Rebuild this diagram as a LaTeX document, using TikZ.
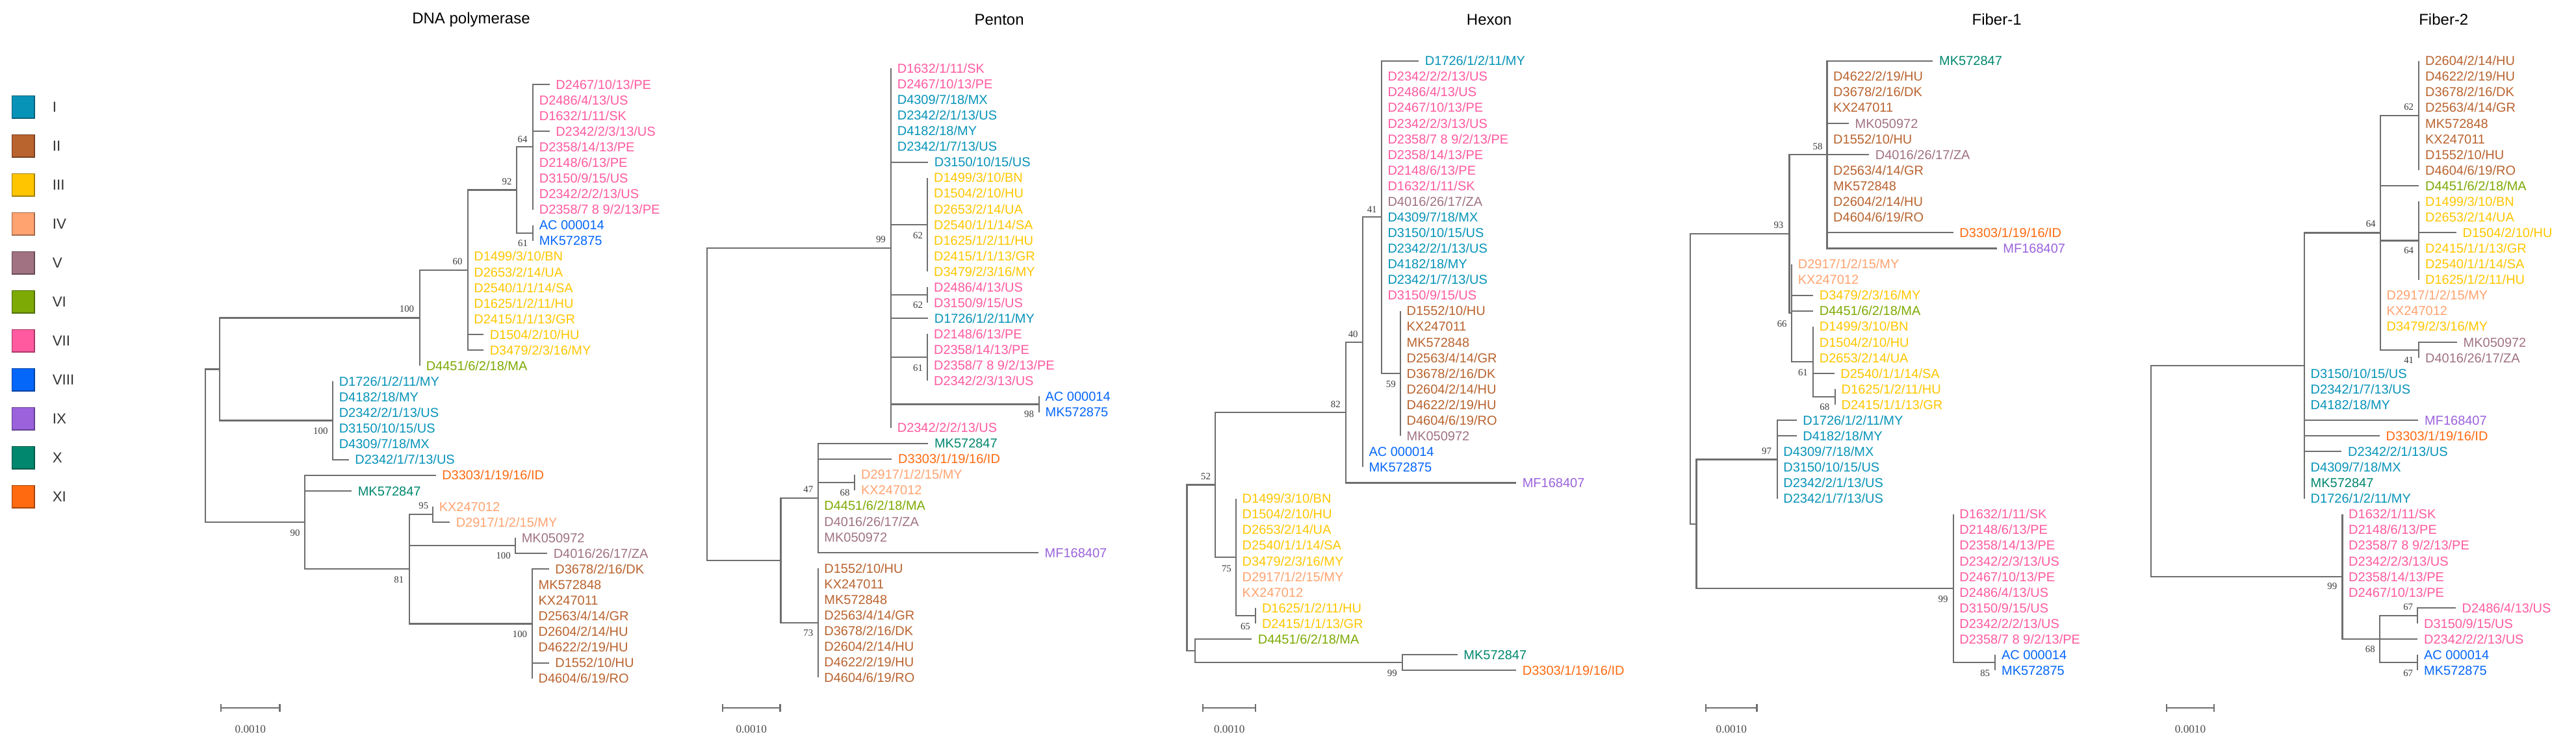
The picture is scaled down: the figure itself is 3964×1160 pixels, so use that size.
\documentclass[tikz,border=0pt]{standalone}
\usepackage{fontspec}
\setmainfont{Liberation Sans}
\newfontfamily\bsfont{Liberation Serif}
\definecolor{cI}{HTML}{0793B8}
\definecolor{cII}{HTML}{B9632F}
\definecolor{cIII}{HTML}{FFC600}
\definecolor{cIV}{HTML}{FFA370}
\definecolor{cV}{HTML}{A07282}
\definecolor{cVI}{HTML}{7DAA05}
\definecolor{cVII}{HTML}{FF5AA0}
\definecolor{cVIII}{HTML}{0566FA}
\definecolor{cIX}{HTML}{9B62DC}
\definecolor{cX}{HTML}{00876E}
\definecolor{cXI}{HTML}{FF6A10}
\definecolor{linegray}{HTML}{6E6E6E}
\definecolor{bsgray}{HTML}{3A3A3A}
\newcommand\tnode[4]{\coordinate (#2) at (#3,#4); \draw[br] (#1) |- (#2);}
\newcommand\tleaf[6]{\coordinate (#2t) at (#3,{\tyb+\tys*#4}); \draw[br] (#1) |- (#2t);
  \node[lab,text=#5] (#2) at ([xshift=2.25pt]#2t) {#6};}
\newcommand\tbs[3]{\node[bs] (#1) at (#2) {#3};}
\begin{document}
\begin{tikzpicture}[x=0.25pt,y=-0.25pt,
  br/.style={draw=linegray,line width=0.55pt},
  lab/.style={font=\fontsize{5pt}{6pt}\selectfont,inner sep=0pt,anchor=west,text height=3.58pt,text depth=0pt},
  bs/.style={font=\bsfont\fontsize{3.7pt}{4pt}\selectfont,inner sep=0pt,text=bsgray},
  ttl/.style={font=\fontsize{6pt}{7pt}\selectfont,inner sep=0pt,text=black},
  sclab/.style={font=\bsfont\fontsize{4.3pt}{5pt}\selectfont,inner sep=0pt,text=black!70},
  lgbox/.style={minimum width=8.6pt,minimum height=8.6pt,inner sep=0pt,line width=0.4pt},
  lgtxt/.style={font=\fontsize{5.6pt}{6pt}\selectfont,inner sep=0pt,anchor=west,text=black!80,text height=4pt,text depth=0pt}]
\useasboundingbox (0,0) rectangle (3964,1160);
% ---------------- legend
\foreach \c/\t [count=\i] in {cI/I,cII/II,cIII/III,cIV/IV,cV/V,cVI/VI,cVII/VII,cVIII/VIII,cIX/IX,cX/X,cXI/XI}{
  \node[lgbox,fill=\c,draw=\c!65!black] (lg\i) at (35.5,{164.8+59.98*(\i-1)}) {};
  \node[lgtxt] (lgt\i) at (80,{164.8+59.98*(\i-1)}) {\t};
}
% ---------------- titles
\node[ttl] (tA) at (725,30.4) {DNA polymerase};
\node[ttl] (tB) at (1537.6,30.4) {Penton};
\node[ttl] (tC) at (2291.6,30.4) {Hexon};
\node[ttl] (tD) at (3072.6,30.4) {Fiber-1};
\node[ttl] (tE) at (3760.3,30.4) {Fiber-2};
% ================= DNA polymerase
\def\tyb{130}\def\tys{24.07}
\coordinate (aR) at (315.6,686);
\tnode{aR}{aU}{338}{568.5}
\tnode{aU}{aN100}{646}{489.5}
\tnode{aN100}{aN60}{719.6}{415.9}
\tnode{aN60}{aN92}{794.6}{292.5}
\tnode{aN92}{aN64}{820}{226.3}
\tnode{aN92}{aN61}{820}{358.7}
\tnode{aU}{aCy}{512}{647.5}
\tnode{aR}{aN90}{468.8}{804}
\tnode{aN90}{aN81}{630}{876.2}
\tnode{aN81}{aN95}{666}{792}
\tnode{aN81}{aNV}{793}{840.1}
\tnode{aN81}{aNBr}{818.8}{960.4}
\tleaf{aN64}{aL0}{845.5}{0}{cVII}{D2467/10/13/PE}
\tleaf{aN64}{aL1}{820}{1}{cVII}{D2486/4/13/US}
\tleaf{aN64}{aL2}{820}{2}{cVII}{D1632/1/11/SK}
\tleaf{aN64}{aL3}{845.5}{3}{cVII}{D2342/2/3/13/US}
\tleaf{aN64}{aL4}{820}{4}{cVII}{D2358/14/13/PE}
\tleaf{aN64}{aL5}{820}{5}{cVII}{D2148/6/13/PE}
\tleaf{aN64}{aL6}{820}{6}{cVII}{D3150/9/15/US}
\tleaf{aN64}{aL7}{820}{7}{cVII}{D2342/2/2/13/US}
\tleaf{aN64}{aL8}{820}{8}{cVII}{D2358/7 8 9/2/13/PE}
\tleaf{aN61}{aL9}{820}{9}{cVIII}{AC 000014}
\tleaf{aN61}{aL10}{820}{10}{cVIII}{MK572875}
\tleaf{aN60}{aL11}{719.6}{11}{cIII}{D1499/3/10/BN}
\tleaf{aN60}{aL12}{719.6}{12}{cIII}{D2653/2/14/UA}
\tleaf{aN60}{aL13}{719.6}{13}{cIII}{D2540/1/1/14/SA}
\tleaf{aN60}{aL14}{719.6}{14}{cIII}{D1625/1/2/11/HU}
\tleaf{aN60}{aL15}{719.6}{15}{cIII}{D2415/1/1/13/GR}
\tleaf{aN60}{aL16}{744}{16}{cIII}{D1504/2/10/HU}
\tleaf{aN60}{aL17}{744}{17}{cIII}{D3479/2/3/16/MY}
\tleaf{aN100}{aL18}{646}{18}{cVI}{D4451/6/2/18/MA}
\tleaf{aCy}{aL19}{512}{19}{cI}{D1726/1/2/11/MY}
\tleaf{aCy}{aL20}{512}{20}{cI}{D4182/18/MY}
\tleaf{aCy}{aL21}{512}{21}{cI}{D2342/2/1/13/US}
\tleaf{aCy}{aL22}{512}{22}{cI}{D3150/10/15/US}
\tleaf{aCy}{aL23}{512}{23}{cI}{D4309/7/18/MX}
\tleaf{aCy}{aL24}{536.6}{24}{cI}{D2342/1/7/13/US}
\tleaf{aN90}{aL25}{670.5}{25}{cXI}{D3303/1/19/16/ID}
\tleaf{aN90}{aL26}{541}{26}{cX}{MK572847}
\tleaf{aN95}{aL27}{666}{27}{cIV}{KX247012}
\tleaf{aN95}{aL28}{692}{28}{cIV}{D2917/1/2/15/MY}
\tleaf{aNV}{aL29}{793}{29}{cV}{MK050972}
\tleaf{aNV}{aL30}{842}{30}{cV}{D4016/26/17/ZA}
\tleaf{aNBr}{aL31}{844.6}{31}{cII}{D3678/2/16/DK}
\tleaf{aNBr}{aL32}{818.8}{32}{cII}{MK572848}
\tleaf{aNBr}{aL33}{818.8}{33}{cII}{KX247011}
\tleaf{aNBr}{aL34}{818.8}{34}{cII}{D2563/4/14/GR}
\tleaf{aNBr}{aL35}{818.8}{35}{cII}{D2604/2/14/HU}
\tleaf{aNBr}{aL36}{818.8}{36}{cII}{D4622/2/19/HU}
\tleaf{aNBr}{aL37}{844.6}{37}{cII}{D1552/10/HU}
\tleaf{aNBr}{aL38}{818.8}{38}{cII}{D4604/6/19/RO}
\tbs{aB1}{804,214.5}{64}
\tbs{aB2}{804.5,375}{61}
\tbs{aB3}{780,280}{92}
\tbs{aB4}{704,402.7}{60}
\tbs{aB5}{626,476}{100}
\tbs{aB6}{493.3,663.3}{100}
\tbs{aB7}{454,820.2}{90}
\tbs{aB8}{613.8,892.2}{81}
\tbs{aB9}{651.8,778.9}{95}
\tbs{aB10}{774.6,855.8}{100}
\tbs{aB11}{800,976.4}{100}
% ================= Penton
\def\tyb{105.4}\def\tys{24.05}
\coordinate (bR) at (1088,622.3);
\tnode{bR}{bN99}{1371}{382}
\tnode{bN99}{bNY}{1427.3}{345.9}
\tnode{bN99}{bNP}{1427.3}{454.1}
\tnode{bN99}{bN61}{1427.3}{550.3}
\tnode{bN99}{bN98}{1598.8}{622.5}
\tnode{bR}{bNL}{1201.4}{862.6}
\tnode{bNL}{bN47}{1258.6}{766.8}
\tnode{bN47}{bN68}{1315.3}{742.7}
\tnode{bNL}{bN73}{1258.6}{959.2}
\tleaf{bN99}{bL0}{1371}{0}{cVII}{D1632/1/11/SK}
\tleaf{bN99}{bL1}{1371}{1}{cVII}{D2467/10/13/PE}
\tleaf{bN99}{bL2}{1371}{2}{cI}{D4309/7/18/MX}
\tleaf{bN99}{bL3}{1371}{3}{cI}{D2342/2/1/13/US}
\tleaf{bN99}{bL4}{1371}{4}{cI}{D4182/18/MY}
\tleaf{bN99}{bL5}{1371}{5}{cI}{D2342/1/7/13/US}
\tleaf{bN99}{bL6}{1428}{6}{cI}{D3150/10/15/US}
\tleaf{bNY}{bL7}{1427.3}{7}{cIII}{D1499/3/10/BN}
\tleaf{bNY}{bL8}{1427.3}{8}{cIII}{D1504/2/10/HU}
\tleaf{bNY}{bL9}{1427.3}{9}{cIII}{D2653/2/14/UA}
\tleaf{bNY}{bL10}{1427.3}{10}{cIII}{D2540/1/1/14/SA}
\tleaf{bNY}{bL11}{1427.3}{11}{cIII}{D1625/1/2/11/HU}
\tleaf{bNY}{bL12}{1427.3}{12}{cIII}{D2415/1/1/13/GR}
\tleaf{bNY}{bL13}{1427.3}{13}{cIII}{D3479/2/3/16/MY}
\tleaf{bNP}{bL14}{1427.3}{14}{cVII}{D2486/4/13/US}
\tleaf{bNP}{bL15}{1427.3}{15}{cVII}{D3150/9/15/US}
\tleaf{bN99}{bL16}{1428}{16}{cI}{D1726/1/2/11/MY}
\tleaf{bN61}{bL17}{1427.3}{17}{cVII}{D2148/6/13/PE}
\tleaf{bN61}{bL18}{1427.3}{18}{cVII}{D2358/14/13/PE}
\tleaf{bN61}{bL19}{1427.3}{19}{cVII}{D2358/7 8 9/2/13/PE}
\tleaf{bN61}{bL20}{1427.3}{20}{cVII}{D2342/2/3/13/US}
\tleaf{bN98}{bL21}{1598.8}{21}{cVIII}{AC 000014}
\tleaf{bN98}{bL22}{1598.8}{22}{cVIII}{MK572875}
\tleaf{bN99}{bL23}{1371}{23}{cVII}{D2342/2/2/13/US}
\tleaf{bN47}{bL24}{1428.2}{24}{cX}{MK572847}
\tleaf{bN47}{bL25}{1372.4}{25}{cXI}{D3303/1/19/16/ID}
\tleaf{bN68}{bL26}{1315.3}{26}{cIV}{D2917/1/2/15/MY}
\tleaf{bN68}{bL27}{1315.3}{27}{cIV}{KX247012}
\tleaf{bN47}{bL28}{1258.6}{28}{cVI}{D4451/6/2/18/MA}
\tleaf{bN47}{bL29}{1258.6}{29}{cV}{D4016/26/17/ZA}
\tleaf{bN47}{bL30}{1258.6}{30}{cV}{MK050972}
\tleaf{bN47}{bL31}{1597.9}{31}{cIX}{MF168407}
\tleaf{bN73}{bL32}{1258.6}{32}{cII}{D1552/10/HU}
\tleaf{bN73}{bL33}{1258.6}{33}{cII}{KX247011}
\tleaf{bN73}{bL34}{1258.6}{34}{cII}{MK572848}
\tleaf{bN73}{bL35}{1258.6}{35}{cII}{D2563/4/14/GR}
\tleaf{bN73}{bL36}{1258.6}{36}{cII}{D3678/2/16/DK}
\tleaf{bN73}{bL37}{1258.6}{37}{cII}{D2604/2/14/HU}
\tleaf{bN73}{bL38}{1258.6}{38}{cII}{D4622/2/19/HU}
\tleaf{bN73}{bL39}{1258.6}{39}{cII}{D4604/6/19/RO}
\tbs{bB1}{1355.4,368.5}{99}
\tbs{bB2}{1412.6,362.5}{62}
\tbs{bB3}{1412.6,469.6}{62}
\tbs{bB4}{1412.6,566.9}{61}
\tbs{bB5}{1583.6,638}{98}
\tbs{bB6}{1243.8,753.5}{47}
\tbs{bB7}{1300,758.7}{68}
\tbs{bB8}{1243.8,975}{73}
% ================= Hexon
\def\tyb{93.6}\def\tys{24.07}
\coordinate (cR) at (1826.5,874.3);
\tnode{cR}{cN52}{1870}{746.4}
\tnode{cN52}{cN82}{2071}{635}
\tnode{cN82}{cN40}{2096.7}{527}
\tnode{cN40}{cN41}{2125.7}{334.3}
\tnode{cN41}{cN59}{2154.8}{575}
\tnode{cN52}{cN75}{1901.9}{857.8}
\tnode{cN75}{cN65}{1932.2}{948.1}
\tnode{cR}{cNLo}{1838.9}{1002.2}
\tnode{cNLo}{cN99}{2158}{1020.3}
\tleaf{cN41}{cL0}{2183}{0}{cI}{D1726/1/2/11/MY}
\tleaf{cN41}{cL1}{2125.7}{1}{cVII}{D2342/2/2/13/US}
\tleaf{cN41}{cL2}{2125.7}{2}{cVII}{D2486/4/13/US}
\tleaf{cN41}{cL3}{2125.7}{3}{cVII}{D2467/10/13/PE}
\tleaf{cN41}{cL4}{2125.7}{4}{cVII}{D2342/2/3/13/US}
\tleaf{cN41}{cL5}{2125.7}{5}{cVII}{D2358/7 8 9/2/13/PE}
\tleaf{cN41}{cL6}{2125.7}{6}{cVII}{D2358/14/13/PE}
\tleaf{cN41}{cL7}{2125.7}{7}{cVII}{D2148/6/13/PE}
\tleaf{cN41}{cL8}{2125.7}{8}{cVII}{D1632/1/11/SK}
\tleaf{cN41}{cL9}{2125.7}{9}{cV}{D4016/26/17/ZA}
\tleaf{cN41}{cL10}{2125.7}{10}{cI}{D4309/7/18/MX}
\tleaf{cN41}{cL11}{2125.7}{11}{cI}{D3150/10/15/US}
\tleaf{cN41}{cL12}{2125.7}{12}{cI}{D2342/2/1/13/US}
\tleaf{cN41}{cL13}{2125.7}{13}{cI}{D4182/18/MY}
\tleaf{cN41}{cL14}{2125.7}{14}{cI}{D2342/1/7/13/US}
\tleaf{cN41}{cL15}{2125.7}{15}{cVII}{D3150/9/15/US}
\tleaf{cN59}{cL16}{2154.8}{16}{cII}{D1552/10/HU}
\tleaf{cN59}{cL17}{2154.8}{17}{cII}{KX247011}
\tleaf{cN59}{cL18}{2154.8}{18}{cII}{MK572848}
\tleaf{cN59}{cL19}{2154.8}{19}{cII}{D2563/4/14/GR}
\tleaf{cN59}{cL20}{2154.8}{20}{cII}{D3678/2/16/DK}
\tleaf{cN59}{cL21}{2154.8}{21}{cII}{D2604/2/14/HU}
\tleaf{cN59}{cL22}{2154.8}{22}{cII}{D4622/2/19/HU}
\tleaf{cN59}{cL23}{2154.8}{23}{cII}{D4604/6/19/RO}
\tleaf{cN59}{cL24}{2154.8}{24}{cV}{MK050972}
\tleaf{cN40}{cL25}{2096.7}{25}{cVIII}{AC 000014}
\tleaf{cN40}{cL26}{2096.7}{26}{cVIII}{MK572875}
\tleaf{cN82}{cL27}{2333}{27}{cIX}{MF168407}
\tleaf{cN75}{cL28}{1901.9}{28}{cIII}{D1499/3/10/BN}
\tleaf{cN75}{cL29}{1901.9}{29}{cIII}{D1504/2/10/HU}
\tleaf{cN75}{cL30}{1901.9}{30}{cIII}{D2653/2/14/UA}
\tleaf{cN75}{cL31}{1901.9}{31}{cIII}{D2540/1/1/14/SA}
\tleaf{cN75}{cL32}{1901.9}{32}{cIII}{D3479/2/3/16/MY}
\tleaf{cN75}{cL33}{1901.9}{33}{cIV}{D2917/1/2/15/MY}
\tleaf{cN75}{cL34}{1901.9}{34}{cIV}{KX247012}
\tleaf{cN65}{cL35}{1932.2}{35}{cIII}{D1625/1/2/11/HU}
\tleaf{cN65}{cL36}{1932.2}{36}{cIII}{D2415/1/1/13/GR}
\tleaf{cNLo}{cL37}{1926}{37}{cVI}{D4451/6/2/18/MA}
\tleaf{cN99}{cL38}{2242.6}{38}{cX}{MK572847}
\tleaf{cN99}{cL39}{2333}{39}{cXI}{D3303/1/19/16/ID}
\tbs{cB1}{2111.2,322.5}{41}
\tbs{cB2}{2082.2,514.2}{40}
\tbs{cB3}{2140.3,591.4}{59}
\tbs{cB4}{2055.3,622.2}{82}
\tbs{cB5}{1855.5,733.7}{52}
\tbs{cB6}{1887.4,875.3}{75}
\tbs{cB7}{1916.4,964.3}{65}
\tbs{cB8}{2142.3,1036.2}{99}
% ================= Fiber-1
\coordinate (dR) at (2600.7,583.3);
\tnode{dR}{dN93}{2753.4}{359.9}
\tnode{dN93}{dN58}{2811.4}{238}
\tnode{dN93}{dN66}{2757}{481.8}
\tnode{dN66}{dN61}{2790}{557}
\tnode{dN61}{dN68}{2823.9}{611.1}
\tnode{dR}{dNL}{2610.5}{806.7}
\tnode{dNL}{dN97}{2734.6}{707.4}
\tnode{dNL}{dN99}{3005.6}{906}
\tnode{dN99}{dN85}{3070.3}{1020.3}
\tleaf{dN58}{dL0}{2974.4}{0}{cX}{MK572847}
\tleaf{dN58}{dL1}{2811.4}{1}{cII}{D4622/2/19/HU}
\tleaf{dN58}{dL2}{2811.4}{2}{cII}{D3678/2/16/DK}
\tleaf{dN58}{dL3}{2811.4}{3}{cII}{KX247011}
\tleaf{dN58}{dL4}{2844.9}{4}{cV}{MK050972}
\tleaf{dN58}{dL5}{2811.4}{5}{cII}{D1552/10/HU}
\tleaf{dN58}{dL6}{2876.1}{6}{cV}{D4016/26/17/ZA}
\tleaf{dN58}{dL7}{2811.4}{7}{cII}{D2563/4/14/GR}
\tleaf{dN58}{dL8}{2811.4}{8}{cII}{MK572848}
\tleaf{dN58}{dL9}{2811.4}{9}{cII}{D2604/2/14/HU}
\tleaf{dN58}{dL10}{2811.4}{10}{cII}{D4604/6/19/RO}
\tleaf{dN58}{dL11}{3005.6}{11}{cXI}{D3303/1/19/16/ID}
\tleaf{dN58}{dL12}{3072.6}{12}{cIX}{MF168407}
\tleaf{dN66}{dL13}{2757}{13}{cIV}{D2917/1/2/15/MY}
\tleaf{dN66}{dL14}{2757}{14}{cIV}{KX247012}
\tleaf{dN66}{dL15}{2790}{15}{cIII}{D3479/2/3/16/MY}
\tleaf{dN66}{dL16}{2790}{16}{cVI}{D4451/6/2/18/MA}
\tleaf{dN61}{dL17}{2790}{17}{cIII}{D1499/3/10/BN}
\tleaf{dN61}{dL18}{2790}{18}{cIII}{D1504/2/10/HU}
\tleaf{dN61}{dL19}{2790}{19}{cIII}{D2653/2/14/UA}
\tleaf{dN61}{dL20}{2822.6}{20}{cIII}{D2540/1/1/14/SA}
\tleaf{dN68}{dL21}{2823.9}{21}{cIII}{D1625/1/2/11/HU}
\tleaf{dN68}{dL22}{2823.9}{22}{cIII}{D2415/1/1/13/GR}
\tleaf{dN97}{dL23}{2764.5}{23}{cI}{D1726/1/2/11/MY}
\tleaf{dN97}{dL24}{2764.5}{24}{cI}{D4182/18/MY}
\tleaf{dN97}{dL25}{2734.6}{25}{cI}{D4309/7/18/MX}
\tleaf{dN97}{dL26}{2734.6}{26}{cI}{D3150/10/15/US}
\tleaf{dN97}{dL27}{2734.6}{27}{cI}{D2342/2/1/13/US}
\tleaf{dN97}{dL28}{2734.6}{28}{cI}{D2342/1/7/13/US}
\tleaf{dN99}{dL29}{3005.6}{29}{cVII}{D1632/1/11/SK}
\tleaf{dN99}{dL30}{3005.6}{30}{cVII}{D2148/6/13/PE}
\tleaf{dN99}{dL31}{3005.6}{31}{cVII}{D2358/14/13/PE}
\tleaf{dN99}{dL32}{3005.6}{32}{cVII}{D2342/2/3/13/US}
\tleaf{dN99}{dL33}{3005.6}{33}{cVII}{D2467/10/13/PE}
\tleaf{dN99}{dL34}{3005.6}{34}{cVII}{D2486/4/13/US}
\tleaf{dN99}{dL35}{3005.6}{35}{cVII}{D3150/9/15/US}
\tleaf{dN99}{dL36}{3005.6}{36}{cVII}{D2342/2/2/13/US}
\tleaf{dN99}{dL37}{3005.6}{37}{cVII}{D2358/7 8 9/2/13/PE}
\tleaf{dN85}{dL38}{3070.3}{38}{cVIII}{AC 000014}
\tleaf{dN85}{dL39}{3070.3}{39}{cVIII}{MK572875}
\tbs{dB1}{2797.1,225.7}{58}
\tbs{dB2}{2736.9,346.4}{93}
\tbs{dB3}{2742.2,498.2}{66}
\tbs{dB4}{2774.4,573.6}{61}
\tbs{dB5}{2807.8,627}{68}
\tbs{dB6}{2718.6,694.2}{97}
\tbs{dB7}{2990,922.7}{99}
\tbs{dB8}{3054.7,1036.2}{85}
% ================= Fiber-2
\coordinate (eR) at (3309.6,725.5);
\tnode{eR}{eNU}{3545.9}{563}
\tnode{eNU}{eN64}{3662.8}{358.4}
\tnode{eN64}{eN62}{3722.3}{177.85}
\tnode{eN64}{eN64b}{3722.3}{370.4}
\tnode{eN64}{eN41}{3722.3}{538.9}
\tnode{eR}{eN99}{3604.4}{887.9}
\tnode{eN99}{eN68}{3661.9}{984.2}
\tnode{eN68}{eN67a}{3720.3}{948.1}
\tnode{eN68}{eN67b}{3720.3}{1020.3}
\tleaf{eN62}{eL0}{3722.3}{0}{cII}{D2604/2/14/HU}
\tleaf{eN62}{eL1}{3722.3}{1}{cII}{D4622/2/19/HU}
\tleaf{eN62}{eL2}{3722.3}{2}{cII}{D3678/2/16/DK}
\tleaf{eN62}{eL3}{3722.3}{3}{cII}{D2563/4/14/GR}
\tleaf{eN62}{eL4}{3722.3}{4}{cII}{MK572848}
\tleaf{eN62}{eL5}{3722.3}{5}{cII}{KX247011}
\tleaf{eN62}{eL6}{3722.3}{6}{cII}{D1552/10/HU}
\tleaf{eN62}{eL7}{3722.3}{7}{cII}{D4604/6/19/RO}
\tleaf{eN64}{eL8}{3722.3}{8}{cVI}{D4451/6/2/18/MA}
\tleaf{eN64b}{eL9}{3722.3}{9}{cIII}{D1499/3/10/BN}
\tleaf{eN64b}{eL10}{3722.3}{10}{cIII}{D2653/2/14/UA}
\tleaf{eN64b}{eL11}{3779.8}{11}{cIII}{D1504/2/10/HU}
\tleaf{eN64b}{eL12}{3722.3}{12}{cIII}{D2415/1/1/13/GR}
\tleaf{eN64b}{eL13}{3722.3}{13}{cIII}{D2540/1/1/14/SA}
\tleaf{eN64b}{eL14}{3722.3}{14}{cIII}{D1625/1/2/11/HU}
\tleaf{eN64}{eL15}{3662.8}{15}{cIV}{D2917/1/2/15/MY}
\tleaf{eN64}{eL16}{3662.8}{16}{cIV}{KX247012}
\tleaf{eN64}{eL17}{3662.8}{17}{cIII}{D3479/2/3/16/MY}
\tleaf{eN41}{eL18}{3780.8}{18}{cV}{MK050972}
\tleaf{eN41}{eL19}{3722.3}{19}{cV}{D4016/26/17/ZA}
\tleaf{eNU}{eL20}{3545.9}{20}{cI}{D3150/10/15/US}
\tleaf{eNU}{eL21}{3545.9}{21}{cI}{D2342/1/7/13/US}
\tleaf{eNU}{eL22}{3545.9}{22}{cI}{D4182/18/MY}
\tleaf{eNU}{eL23}{3721.3}{23}{cIX}{MF168407}
\tleaf{eNU}{eL24}{3661.9}{24}{cXI}{D3303/1/19/16/ID}
\tleaf{eNU}{eL25}{3603.4}{25}{cI}{D2342/2/1/13/US}
\tleaf{eNU}{eL26}{3545.9}{26}{cI}{D4309/7/18/MX}
\tleaf{eNU}{eL27}{3545.9}{27}{cX}{MK572847}
\tleaf{eNU}{eL28}{3545.9}{28}{cI}{D1726/1/2/11/MY}
\tleaf{eN99}{eL29}{3604.4}{29}{cVII}{D1632/1/11/SK}
\tleaf{eN99}{eL30}{3604.4}{30}{cVII}{D2148/6/13/PE}
\tleaf{eN99}{eL31}{3604.4}{31}{cVII}{D2358/7 8 9/2/13/PE}
\tleaf{eN99}{eL32}{3604.4}{32}{cVII}{D2342/2/3/13/US}
\tleaf{eN99}{eL33}{3604.4}{33}{cVII}{D2358/14/13/PE}
\tleaf{eN99}{eL34}{3604.4}{34}{cVII}{D2467/10/13/PE}
\tleaf{eN67a}{eL35}{3778.8}{35}{cVII}{D2486/4/13/US}
\tleaf{eN67a}{eL36}{3720.3}{36}{cVII}{D3150/9/15/US}
\tleaf{eN68}{eL37}{3720.3}{37}{cVII}{D2342/2/2/13/US}
\tleaf{eN67b}{eL38}{3720.3}{38}{cVIII}{AC 000014}
\tleaf{eN67b}{eL39}{3720.3}{39}{cVIII}{MK572875}
\tbs{eB1}{3706.7,165}{62}
\tbs{eB2}{3648.2,344.6}{64}
\tbs{eB3}{3706.7,385.7}{64}
\tbs{eB4}{3706.7,555}{41}
\tbs{eB5}{3588.8,903}{99}
\tbs{eB6}{3705.7,934.6}{67}
\tbs{eB7}{3647.3,999.5}{68}
\tbs{eB8}{3705.7,1036.2}{67}
% ================= scale bars
\foreach \p/\xa/\xb/\xl in {a/340.2/430.4/385.3, b/1112/1200.5/1156.2, c/1851.3/1932.2/1891.7, d/2625.3/2703.4/2664.3, e/3334/3407/3370.5}{
  \coordinate (\p S1) at (\xa,1090);
  \coordinate (\p S2) at (\xb,1090);
  \draw[br] (\p S1) -- (\p S2);
  \draw[br] ([yshift=1.4pt]\p S1) -- ([yshift=-1.4pt]\p S1);
  \draw[br] ([yshift=1.4pt]\p S2) -- ([yshift=-1.4pt]\p S2);
  \node[sclab] (\p SL) at (\xl,1123) {0.0010};
}
\end{tikzpicture}
\end{document}
